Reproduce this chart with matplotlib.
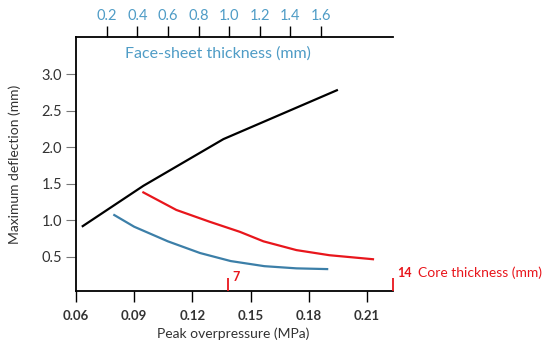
import matplotlib
matplotlib.use("Agg")
import matplotlib.pyplot as plt
import matplotlib.transforms as transforms

plt.rcParams['font.family'] = ['Lato', 'DejaVu Sans']

# peak overpressure (MPa) vs max deflection (mm)
pressure = [0.063, 0.0947, 0.136, 0.195]
defl_pressure = [0.91, 1.47, 2.11, 2.785]

# face-sheet thickness (mm) vs max deflection
face = [0.25, 0.38, 0.60, 0.81, 1.01, 1.23, 1.44, 1.64]
defl_face = [1.07, 0.91, 0.71, 0.55, 0.44, 0.37, 0.34, 0.33]

# core thickness (mm) vs max deflection
core = [3.4, 4.8, 6.2, 7.5, 8.5, 9.9, 11.3, 13.15]
defl_core = [1.38, 1.14, 0.98, 0.84, 0.71, 0.59, 0.52, 0.465]

p_ticks = [0.06, 0.09, 0.12, 0.15, 0.18, 0.21]
y_ticks = [0.5, 1.0, 1.5, 2.0, 2.5, 3.0]
face_ticks = [0.2, 0.4, 0.6, 0.8, 1.0, 1.2, 1.4, 1.6]
core_ticks = [7, 14]

BLUE_LINE = "#3c7fa8"
BLUE_TXT = "#4f9cc6"
RED = "#e8161c"
GREY = "#333333"

W, H = 550, 352
fig = plt.figure(figsize=(5.5, 3.52), dpi=100)
left, right, top, bottom = 76, 393, 36.5, 291
rect = [left / W, 1 - bottom / H, (right - left) / W, (bottom - top) / H]
ylim = (0.03, 3.515)

# main axes: pressure
ax = fig.add_axes(rect)
ax.set_xlim(0.06, 0.2234)
ax.set_ylim(*ylim)
ax.spines['top'].set_visible(False)
ax.spines['right'].set_visible(False)
for s in ('left', 'bottom'):
    ax.spines[s].set_linewidth(1.3)
ax.set_xticks(p_ticks)
ax.set_xticklabels(["%.2f" % v for v in p_ticks], fontweight='bold', fontsize=9.5, color=GREY)
ax.set_yticks(y_ticks)
ax.set_yticklabels(["%.1f" % v for v in y_ticks], fontsize=10.5, color=GREY)
ax.tick_params(axis='x', direction='out', length=8, width=1.0, pad=6)
ax.tick_params(axis='y', direction='out', length=7, width=0.8, color="#777777", pad=3)
ax.plot(pressure, defl_pressure, color="black", lw=1.6, solid_capstyle='butt')

# face-sheet thickness axis on top
ax_f = fig.add_axes(rect, sharey=ax)
ax_f.patch.set_visible(False)
ax_f.set_xlim(0, 2.07)
for s in ('left', 'right', 'bottom'):
    ax_f.spines[s].set_visible(False)
ax_f.spines['top'].set_linewidth(1.3)
ax_f.xaxis.tick_top()
ax_f.set_xticks(face_ticks)
ax_f.set_xticklabels(["%.1f" % v for v in face_ticks], fontsize=10.5, color=BLUE_TXT)
ax_f.tick_params(axis='x', direction='out', length=8, width=1.0, pad=2)
ax_f.tick_params(axis='y', left=False, labelleft=False)
ax_f.xaxis.get_ticklines()[8].set_color("#dddddd")
ax_f.xaxis.get_ticklines()[9].set_color("#dddddd")
ax_f.plot(face, defl_face, color=BLUE_LINE, lw=1.6)
ax_f.text(0.449, 0.932, "Face-sheet thickness (mm)", transform=ax_f.transAxes,
          ha='center', va='center', fontsize=11.5, color=BLUE_TXT)

# core thickness axis on bottom (ticks pointing in)
ax_c = fig.add_axes(rect, sharey=ax)
ax_c.patch.set_visible(False)
ax_c.set_xlim(0.54, 14.0)
for s in ax_c.spines.values():
    s.set_visible(False)
ax_c.set_xticks(core_ticks)
ax_c.tick_params(axis='x', direction='in', length=9.5, width=1.3, color=RED, labelbottom=False)
ax_c.tick_params(axis='y', left=False, labelleft=False)
ax_c.plot(core, defl_core, color=RED, lw=1.6)
trans = transforms.blended_transform_factory(ax_c.transData, ax_c.transAxes)
off = transforms.ScaledTranslation(4 / 100, 0, fig.dpi_scale_trans)
for c, yy in zip(core_ticks, [0.055, 0.07]):
    ax_c.text(c, yy, str(c), transform=trans + off, ha='left', va='center',
              fontsize=9, fontweight='bold', color=RED)
ax_c.text(418 / W, 1 - 273 / H, "Core thickness (mm)", transform=fig.transFigure,
          ha='left', va='center', fontsize=10, color=RED)

fig.text(233 / W, 1 - 334 / H, "Peak overpressure (MPa)", ha='center', va='center',
         fontsize=10, color=GREY)
fig.text(15 / W, 1 - 164 / H, "Maximum deflection (mm)", ha='center', va='center',
         rotation=90, fontsize=10, color=GREY)

fig.savefig("out.png", dpi=100)
